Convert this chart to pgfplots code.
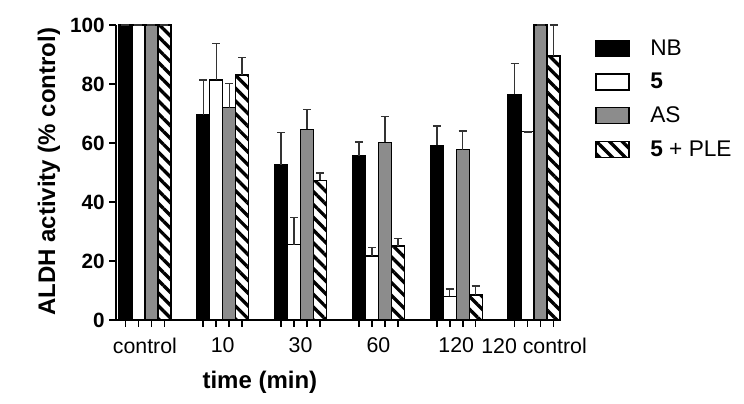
\documentclass[border=0pt]{standalone}
\usepackage{fontspec}
\setmainfont{Liberation Sans}
\usepackage{pgfplots}
\usepackage{pgfplotstable}
\pgfplotsset{compat=1.18}
\usetikzlibrary{patterns.meta}

% x = 6*group + bar index
\pgfplotstableread{
x y e
0 100 0
6 69.5 11.9
12 52.5 11.1
18 55.7 4.6
24 59.2 6.6
30 76.5 10.4
}\nb
\pgfplotstableread{
x y e
1 100 0
7 81.4 12.4
13 25.5 9.2
19 21.7 2.8
25 8.0 2.5
31 63.8 0
}\five
\pgfplotstableread{
x y e
2 100 0
8 72.0 8.1
14 64.6 6.8
20 60.2 8.7
26 57.7 6.4
32 100 0
}\as
\pgfplotstableread{
x y e
3 100 0
9 83.0 5.9
15 47.4 2.4
21 25.1 2.5
27 8.5 3.0
33 89.5 10.5
}\ple

\pgfplotsset{
  barstyle/.style={ybar, bar width=1, bar shift=0pt, draw=black, line width=1pt,
    legend image code/.code={\draw[##1, line width=1pt] (0pt,-6pt) rectangle (24.75pt,6pt);},
    error bars/y dir=plus, error bars/y explicit,
    error bars/error bar style={line width=1.1pt, black!80},
    error bars/error mark options={rotate=90, line width=1.1pt, mark size=3pt, black!80}},
}

\begin{document}
\begin{tikzpicture}
\useasboundingbox (0,0) rectangle (558pt,303pt);
\begin{axis}[
  at={(87pt,63pt)}, anchor=south west,
  scale only axis, width=333pt, height=221.25pt,
  xmin=-0.73, xmax=33.5, ymin=0, ymax=100,
  clip=false,
  axis x line*=bottom, axis y line*=left,
  axis line style={line width=1.4pt},
  tick align=outside, major tick length=5pt,
  tick style={line width=1.2pt, black},
  ytick={0,20,40,60,80,100},
  xtick={0,1,2,3,6,7,8,9,12,13,14,15,18,19,20,21,24,25,26,27,30,31,32,33},
  xticklabels={},
  extra x ticks={1.5,7.5,13.5,19.5,25.5,31.5},
  extra x tick labels={control,10,30,60,120,120 control},
  extra x tick style={major tick length=0pt, tick style={draw=none},
    tick label style={font=\fontsize{16}{16}\selectfont, yshift=-10pt}},
  /pgf/number format/assume math mode=true,
  yticklabel style={font=\bfseries\fontsize{15.5}{15.5}\selectfont},
  ylabel={\bfseries ALDH activity (\% control)},
  ylabel style={font=\bfseries\fontsize{18}{18}\selectfont, at={(axis description cs:-0.151,0.502)}, anchor=center},
  xlabel={\bfseries time (min)},
  xlabel style={font=\bfseries\fontsize{18}{18}\selectfont, at={(axis description cs:0.324,-0.21)}, anchor=center},
  legend style={at={(1.079,0.96)}, anchor=north west, draw=none, fill=none,
    font=\fontsize{17}{17}\selectfont, row sep=8pt, inner sep=0pt,
    /tikz/every odd column/.append style={column sep=13.5pt},
    cells={anchor=west}},
]
\addplot[barstyle, fill=black] table[x=x, y=y, y error=e] {\nb};
\addlegendentry{NB}
\addplot[barstyle, fill=white] table[x=x, y=y, y error=e] {\five};
\addlegendentry{\textbf{5}}
\addplot[barstyle, fill=black!45] table[x=x, y=y, y error=e] {\as};
\addlegendentry{AS}
\addplot[barstyle, fill=white, postaction={pattern={Lines[angle=-45, distance=6.8pt, line width=2.5pt]}, pattern color=black}] table[x=x, y=y, y error=e] {\ple};
\addlegendentry{\textbf{5} + PLE}
\end{axis}
\end{tikzpicture}
\end{document}
